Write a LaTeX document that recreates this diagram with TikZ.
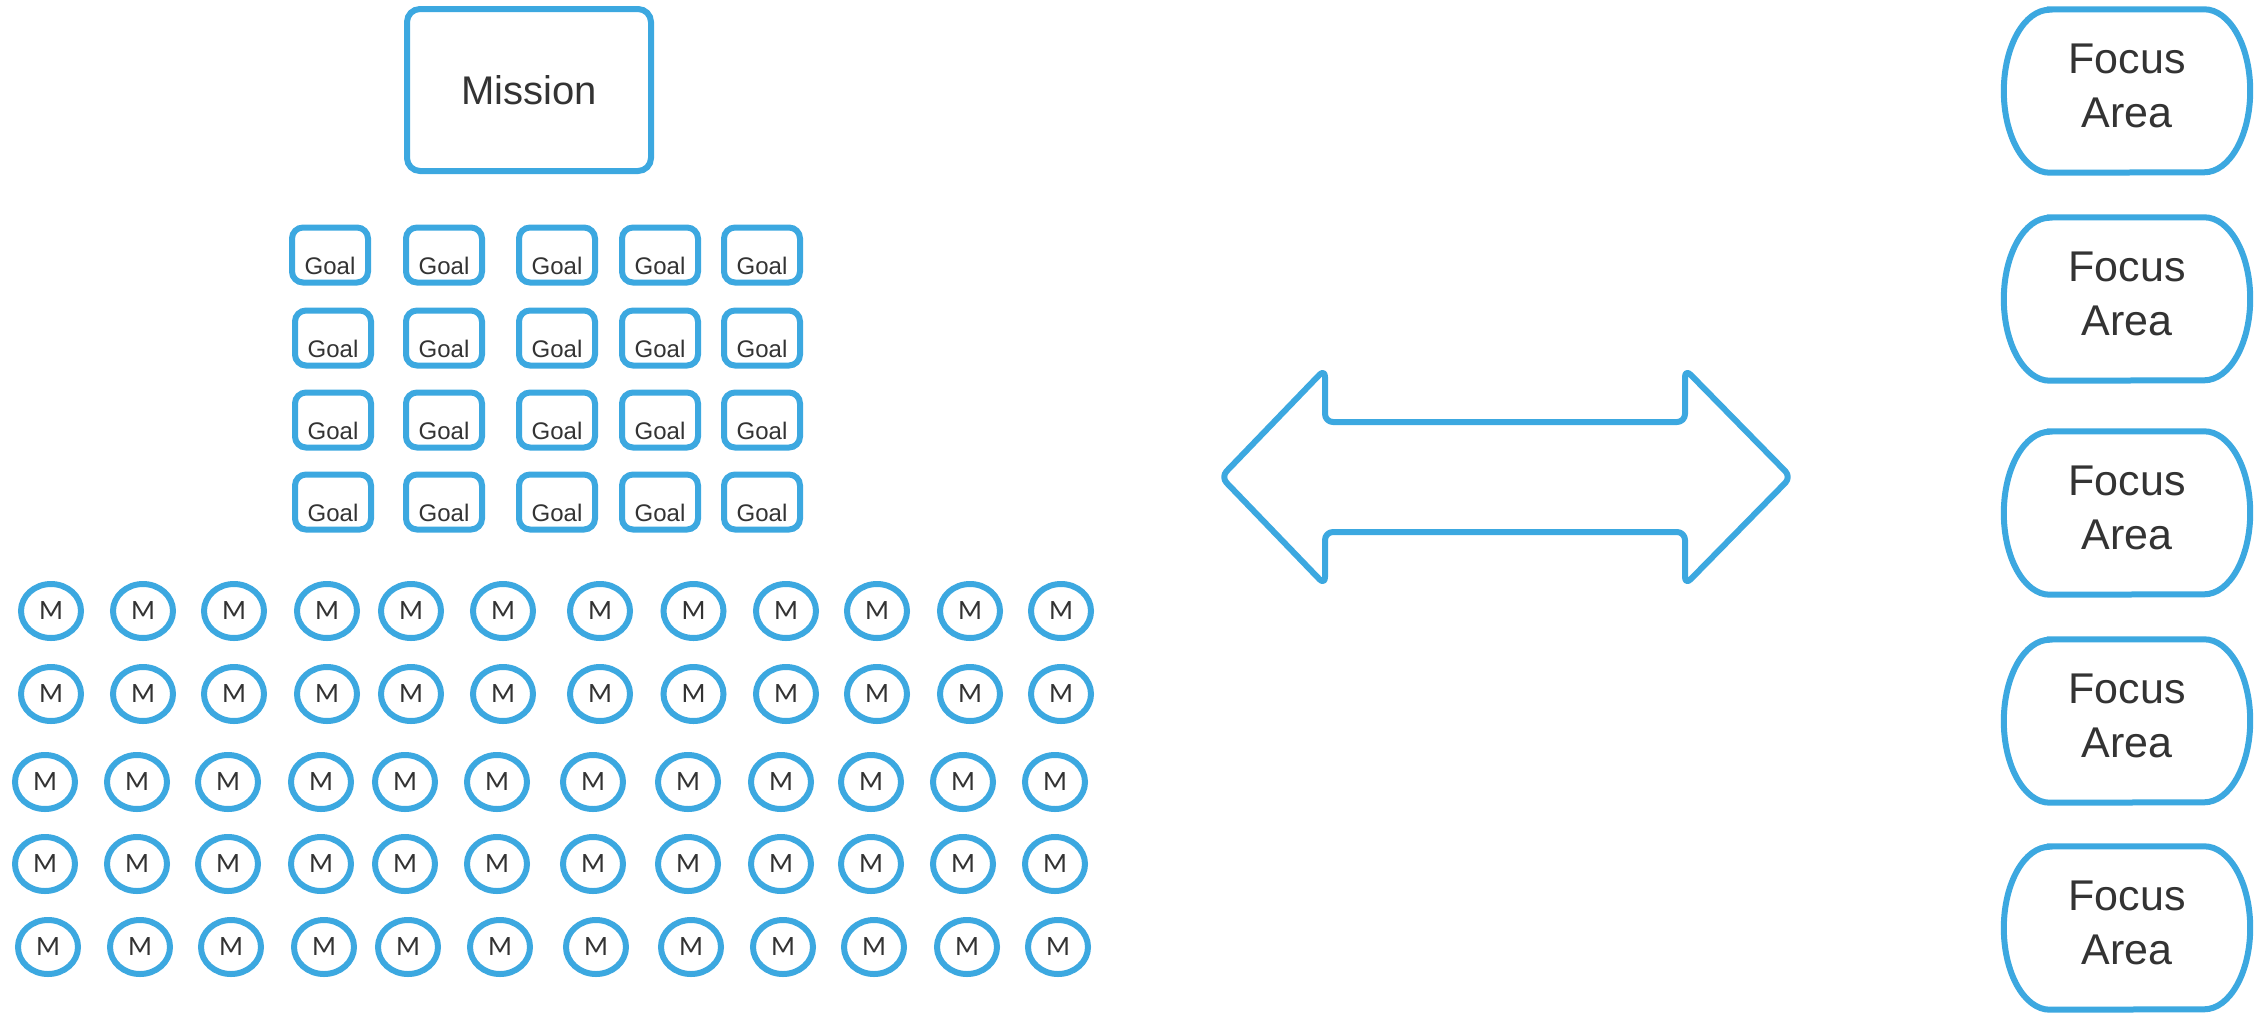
\documentclass[tikz,border=0pt]{standalone}
\usepackage{fontspec}
\setmainfont{Liberation Sans}
\newfontfamily\mfont{Carlito}
\usetikzlibrary{shapes.geometric}
\definecolor{lineblue}{RGB}{60,168,224}
\definecolor{inkgray}{RGB}{51,51,51}

\begin{document}
\begin{tikzpicture}[x=1pt,y=-1pt,
  outline/.style={draw=lineblue, line width=6pt},
  missionbox/.style={outline, rectangle, rounded corners=13pt,
    minimum width=244pt, minimum height=162pt, inner sep=0pt,
    text=inkgray, font=\fontsize{40}{48}\selectfont},
  goaltext/.style={text=inkgray, font=\fontsize{24}{28}\selectfont, yshift=-11pt},
  goalbox/.style={outline, rectangle, rounded corners=11pt,
    minimum width=76pt, minimum height=55pt, inner sep=0pt,
    label={[goaltext]center:Goal}},
  measure/.style={outline, ellipse, minimum width=60pt, minimum height=54pt,
    inner sep=0pt, text=inkgray, font=\mfont\fontsize{28}{32}\selectfont},
  focusbox/.style={rectangle, minimum width=246pt, minimum height=154pt,
    inner sep=0pt, align=center, text=inkgray,
    font=\fontsize{43}{54}\selectfont},
]
\useasboundingbox[fill=white] (0,0) rectangle (2260,1013);

% mission
\node[missionbox] (mission) at (529,90) {Mission};

% goals: 4 rows x 5 columns
\foreach \c/\x in {1/330,2/444,3/557,4/660,5/762}
  \node[goalbox] (g-1-\c) at (\x,255) {};
\foreach \r/\y in {2/338,3/420,4/502}
  \foreach \c/\x in {1/333,2/444,3/557,4/660,5/762}
    \node[goalbox] (g-\r-\c) at (\x,\y) {};

% measures: 5 rows x 12 columns
\foreach \r/\y in {1/611,2/694}
  \foreach \x [count=\c] in {51,143,234,327,411,503,600,693.5,786,877,970,1061}
    \node[measure] (m-\r-\c) at (\x,\y) {M};
\foreach \r/\y in {3/782,4/864}
  \foreach \x [count=\c] in {45,137,228,321,405,497,593,688,781,871,963,1055}
    \node[measure] (m-\r-\c) at (\x,\y) {M};
\foreach \x [count=\c] in {48,140,231,324,408,500,596,691,783,874,967,1058}
  \node[measure] (m-5-\c) at (\x,947) {M};

% two-headed block arrow
\draw[outline, rounded corners=8pt, line join=round]
  (1221,477) -- (1325,369) -- (1325,422) -- (1685,422) -- (1685,369)
  -- (1791,477) -- (1685,585) -- (1685,532) -- (1325,532) -- (1325,585) -- cycle;

% focus areas: terminal shapes with elliptic ends (text sits a little high)
\foreach \i/\y in {1/86,2/294,3/508,4/716,5/923}{
  \node[focusbox] (f\i) at (2127,\y) {Focus\\Area};
  \draw[outline]
    ([xshift=46pt,yshift=-0.5pt]f\i.north west) -- ([xshift=-46pt,yshift=-0.5pt]f\i.north east)
    arc[start angle=90, end angle=-90, x radius=46pt, y radius=81.5pt]
    -- ([xshift=46pt,yshift=-9.5pt]f\i.south west)
    arc[start angle=270, end angle=90, x radius=46pt, y radius=81.5pt]
    -- cycle;
}
\end{tikzpicture}
\end{document}
